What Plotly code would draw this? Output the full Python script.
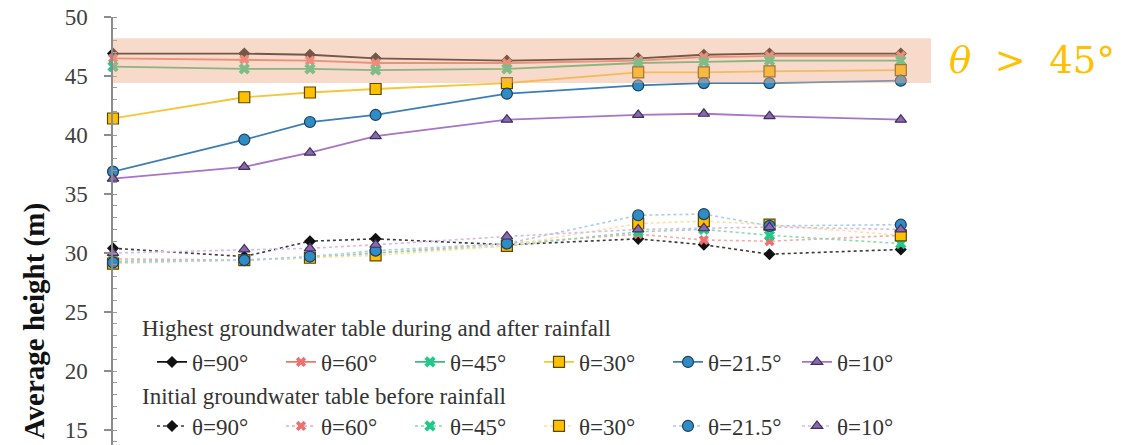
import plotly.graph_objects as go

# Horizontal positions of the measurement points
x_pos = [0, 2, 3, 4, 6, 8, 9, 10, 12]

angles = ["90", "60", "45", "30", "21.5", "10"]

# Highest groundwater table during and after rainfall (m)
high_90 = [46.9, 46.9, 46.8, 46.5, 46.3, 46.5, 46.8, 46.9, 46.9]
high_60 = [46.5, 46.4, 46.3, 46.1, 46.1, 46.3, 46.6, 46.7, 46.7]
high_45 = [45.8, 45.6, 45.6, 45.5, 45.6, 46.1, 46.2, 46.3, 46.3]
high_30 = [41.4, 43.2, 43.6, 43.9, 44.4, 45.3, 45.3, 45.4, 45.5]
high_215 = [36.9, 39.6, 41.1, 41.7, 43.5, 44.2, 44.4, 44.4, 44.6]
high_10 = [36.3, 37.3, 38.5, 39.9, 41.3, 41.7, 41.8, 41.6, 41.3]

# Initial groundwater table before rainfall (m)
init_90 = [30.4, 29.7, 31.0, 31.2, 30.7, 31.2, 30.7, 29.9, 30.3]
init_60 = [29.5, 29.4, 29.6, 30.0, 30.8, 31.6, 31.1, 31.0, 31.5]
init_45 = [29.3, 29.4, 29.6, 30.0, 30.6, 31.8, 32.0, 31.5, 30.8]
init_30 = [29.1, 29.4, 29.6, 29.8, 30.6, 32.5, 32.7, 32.4, 31.5]
init_215 = [29.2, 29.4, 29.7, 30.2, 30.8, 33.2, 33.3, 32.3, 32.4]
init_10 = [30.0, 30.3, 30.4, 30.7, 31.4, 32.0, 32.1, 32.2, 32.0]

high_series = [high_90, high_60, high_45, high_30, high_215, high_10]
init_series = [init_90, init_60, init_45, init_30, init_215, init_10]

# Shaded band for the steep-slope cases
band_low, band_high = 44.4, 48.2
band_label = "<i>θ</i>&nbsp;&nbsp;>&nbsp;&nbsp;45°"

title_high = "Highest groundwater table during and after rainfall"
title_init = "Initial groundwater table before rainfall"

SERIF = "Liberation Serif"

symbols = ["diamond", "x", "x", "square", "circle", "triangle-up"]
sizes = [8, 9, 10, 11, 11, 10]
solid_colors = ["#111111", "#e8786c", "#3cb878", "#f7c53a", "#3a7db8", "#a873c9"]
dot_colors = ["#3a3a3a", "#f3a9a4", "#8fd8b2", "#fbe29a", "#a9cde8", "#d9b7ea"]
marker_fill = ["#111111", "#ee6f6f", "#22c98a", "#ffc000", "#2f8cc4", "#8a68b0"]
marker_edge = ["#111111", "#ee6f6f", "#22c98a", "#5c4700", "#1d3f5e", "#3f2f5a"]

fig = go.Figure()


def marker_for(i):
    if symbols[i] == "x":
        return dict(symbol=symbols[i], size=sizes[i], color=marker_fill[i],
                    line=dict(width=0))
    return dict(symbol=symbols[i], size=sizes[i], color=marker_fill[i],
                line=dict(width=1.2, color=marker_edge[i]))


for i, ang in enumerate(angles):
    fig.add_trace(go.Scatter(
        x=x_pos, y=init_series[i], mode="lines+markers",
        name=f"θ={ang}°", legend="legend2",
        line=dict(color=dot_colors[i], width=1.6, dash="dot"),
        marker=marker_for(i), cliponaxis=False,
    ))

for i, ang in enumerate(angles):
    fig.add_trace(go.Scatter(
        x=x_pos, y=high_series[i], mode="lines+markers",
        name=f"θ={ang}°", legend="legend",
        line=dict(color=solid_colors[i], width=1.8),
        marker=marker_for(i), cliponaxis=False,
    ))

fig.add_shape(type="rect", xref="x domain", yref="y",
              x0=0, x1=1, y0=band_low, y1=band_high,
              fillcolor="rgba(240,172,138,0.45)", line=dict(width=0),
              layer="above")

fig.add_annotation(text=band_label, xref="paper", yref="y",
                   x=(1032 - 113) / 818, y=(band_low + band_high) / 2,
                   xanchor="center", yanchor="middle", showarrow=False,
                   font=dict(family="DejaVu Serif", size=37, color="#ffc000"))

fig.add_annotation(text="<b>Average height (m)</b>", textangle=-90,
                   xref="paper", yref="paper", x=-0.095, y=0.29,
                   xanchor="center", yanchor="middle", showarrow=False,
                   font=dict(family=SERIF, size=29, color="#111111"))

# Group headings above each legend row
fig.add_annotation(text=title_high, xref="paper", yref="paper",
                   x=(140 - 113) / 818, y=(445 - 328) / 428,
                   xanchor="left", yanchor="middle", showarrow=False,
                   font=dict(family=SERIF, size=23, color="#333333"))
fig.add_annotation(text=title_init, xref="paper", yref="paper",
                   x=(140 - 113) / 818, y=(445 - 396) / 428,
                   xanchor="left", yanchor="middle", showarrow=False,
                   font=dict(family=SERIF, size=23, color="#333333"))

legend_common = dict(
    orientation="h", xanchor="left", yanchor="middle",
    entrywidth=84, entrywidthmode="pixels",
    font=dict(family=SERIF, size=23, color="#333333"),
    bgcolor="rgba(0,0,0,0)", itemwidth=30, tracegroupgap=0,
)

fig.update_layout(
    width=1131, height=445,
    margin=dict(l=113, r=200, t=17, b=0, autoexpand=False),
    font=dict(family=SERIF, color="#333333"),
    paper_bgcolor="white", plot_bgcolor="white",
    showlegend=True,
    legend=dict(**legend_common, x=(152 - 113) / 818, y=(445 - 362) / 428),
    legend2=dict(**legend_common, x=(152 - 113) / 818, y=(445 - 426) / 428),
    xaxis=dict(range=[0, 12.46], showline=False, showgrid=False, zeroline=False,
               showticklabels=False, ticks=""),
    yaxis=dict(range=[13.73, 50], tickvals=[15, 20, 25, 30, 35, 40, 45, 50],
               showgrid=False, zeroline=False, showline=True,
               linecolor="#8c8c8c", linewidth=1.5,
               ticks="outside", ticklen=7, tickwidth=1.5, tickcolor="#8c8c8c",
               ticklabelstandoff=12,
               tickfont=dict(family=SERIF, size=23, color="#404040"),
               minor=dict(dtick=1, ticks="inside", ticklen=4, tickwidth=1,
                          tickcolor="#9a9a9a")),
    yaxis2=dict(range=[13.73, 50], overlaying="y", side="left",
                tickvals=[15, 20, 25, 30, 35, 40, 45, 50],
                ticks="inside", ticklen=5, tickwidth=1.5, tickcolor="#8c8c8c",
                showticklabels=False, showline=False, showgrid=False,
                zeroline=False),
)

fig.write_html("out.html")
